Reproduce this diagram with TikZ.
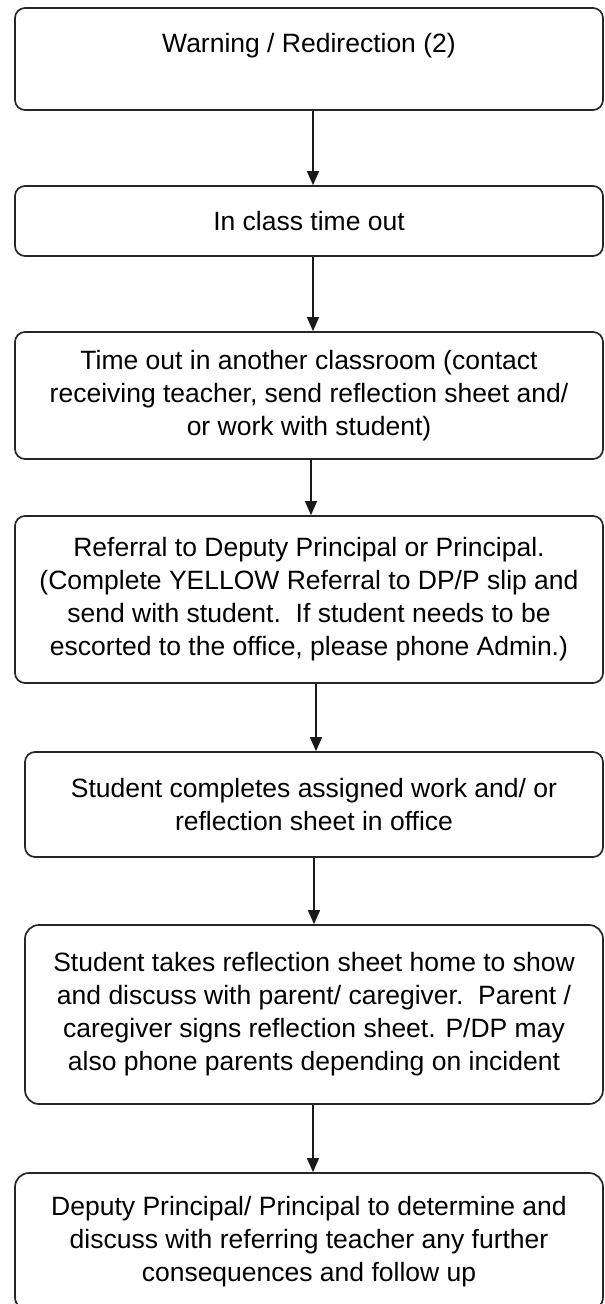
\documentclass[tikz,border=0pt]{standalone}
\usepackage{fontspec}
\setmainfont{Liberation Sans}
\usetikzlibrary{arrows.meta}
\begin{document}
\begin{tikzpicture}[x=1pt,y=-1pt,
  box/.style={draw=black!85, line width=1.7pt, rounded corners=10pt, align=center,
    font=\fontsize{26.5}{33}\selectfont, inner sep=0pt, minimum width=588pt},
  boxn/.style={box, minimum width=578pt},
  arr/.style={draw=black!90, line width=1.4pt, -{Triangle[length=14pt,width=12pt]}}]
\useasboundingbox (0,0) rectangle (605,1304);
\clip (0,0) rectangle (605,1304);
\node[box, minimum height=102pt] (b1) at (309,59) {Warning / Redirection (2)\\\mbox{}};
\node[box, minimum height=70pt] (b2) at (309,221) {In class time out};
\node[box, minimum height=127pt] (b3) at (309,395.5) {Time out in another classroom (contact\\receiving teacher, send reflection sheet and/\\or work with student)};
\node[box, minimum height=167pt] (b4) at (309,599.5) {Referral to Deputy Principal or Principal.\\(Complete YELLOW Referral to DP/P slip and\\send with student.\ \ If student needs to be\\escorted to the office, please phone Admin.)};
\node[boxn, minimum height=105pt] (b5) at (314,804.5) {Student completes assigned work and/ or\\reflection sheet in office};
\node[boxn, minimum height=179pt, rounded corners=14pt] (b6) at (314,1014.5) {Student takes reflection sheet home to show\\and discuss with parent/ caregiver.\ \ Parent /\\caregiver signs reflection sheet. P/DP may\\also phone parents depending on incident};
\node[box, minimum height=138pt, rounded corners=14pt] (b7) at (309,1242) {Deputy Principal/ Principal to determine and\\discuss with referring teacher any further\\consequences and follow up};
\draw[arr] ([xshift=4pt]b1.south) -- ([xshift=4pt]b1.south |- b2.north);
\draw[arr] ([xshift=4pt]b2.south) -- ([xshift=4pt]b2.south |- b3.north);
\draw[arr] ([xshift=2pt]b3.south) -- ([xshift=2pt]b3.south |- b4.north);
\draw[arr] ([xshift=7pt]b4.south) -- ([xshift=7pt]b4.south |- b5.north);
\draw[arr] ([xshift=0pt]b5.south) -- ([xshift=0pt]b5.south |- b6.north);
\draw[arr] ([xshift=-1pt]b6.south) -- ([xshift=-1pt]b6.south |- b7.north);
\end{tikzpicture}
\end{document}
